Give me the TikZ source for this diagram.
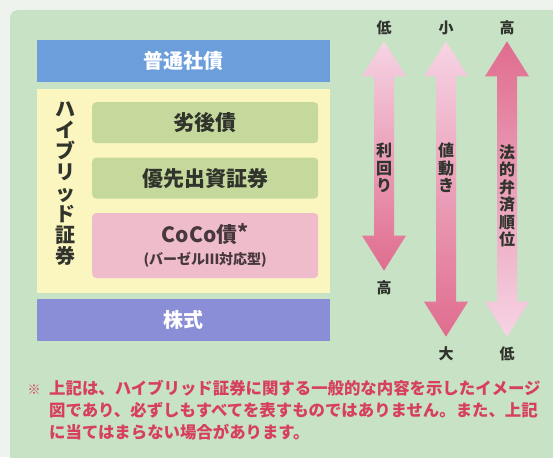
\documentclass[tikz,border=0pt]{standalone}
\usepackage{fontspec}
\usepackage{tikz}
\usepackage{xcolor}
\usetikzlibrary{positioning, calc}
\newfontfamily\jp{Noto Sans CJK JP}
\definecolor{PaleBg}{RGB}{238, 243, 237}
\definecolor{PanelGreen}{RGB}{200, 226, 198}
\definecolor{BondBlue}{RGB}{108, 158, 220}
\definecolor{HybridYellow}{RGB}{251, 246, 192}
\definecolor{SubGreen}{RGB}{198, 217, 156}
\definecolor{CocoPink}{RGB}{238, 188, 203}
\definecolor{StockPurple}{RGB}{138, 142, 214}
\definecolor{ArrowDark}{RGB}{224, 108, 142}
\definecolor{ArrowLight}{RGB}{246, 212, 228}
\definecolor{NoteRed}{RGB}{214, 64, 94}
\definecolor{InkDark}{RGB}{48, 52, 44}

% block arrow with two heads, between two label nodes
\newcommand{\dblarrow}[4]{%
  \shade[top color=#3, bottom color=#4]
    let \p1=(#1.south), \p2=(#2.north) in
    (\x1,{\y1-6pt}) -- ({\x1+22pt},{\y1-41pt}) -- ({\x1+10pt},{\y1-41pt})
    -- ({\x1+10pt},{\y2+45pt}) -- ({\x1+22pt},{\y2+45pt}) -- (\x1,{\y2+10pt})
    -- ({\x1-22pt},{\y2+45pt}) -- ({\x1-10pt},{\y2+45pt})
    -- ({\x1-10pt},{\y1-41pt}) -- ({\x1-22pt},{\y1-41pt}) -- cycle;}

\begin{document}
\begin{tikzpicture}[
    x=1pt, y=-1pt,
    layer/.style={minimum width=293pt, minimum height=42pt, inner sep=0pt,
        text=white, font=\jp\bfseries\fontsize{20}{22}\selectfont},
    inner/.style={rounded corners=4pt, minimum width=226pt, minimum height=41pt,
        inner sep=0pt, text=InkDark, font=\jp\bfseries\fontsize{21}{23}\selectfont},
    scale label/.style={inner sep=0pt, text=InkDark, font=\jp\bfseries\fontsize{15}{17}\selectfont},
    arrow text/.style={inner sep=0pt, align=center, text=InkDark,
        font=\jp\bfseries\fontsize{16}{17.5}\selectfont}
]
\useasboundingbox (0,0) rectangle (553,457);
\fill[PaleBg] (0,0) rectangle (553,457);
\fill[PanelGreen, rounded corners=8pt] (10,10) rectangle (580,480);

% Layers
\node[layer, fill=BondBlue, anchor=north west] (bond) at (37,40) {普通社債};
\node[layer, fill=HybridYellow, minimum height=204pt, below=6pt of bond] (hybrid) {};
\node[layer, fill=StockPurple, below=6pt of hybrid] (stock) {株式};

\node[inner, fill=SubGreen, anchor=north west] (sub) at (92,102) {劣後債};
\node[inner, fill=SubGreen, below=14pt of sub] (pref) {優先出資証券};
\node[inner, fill=CocoPink, minimum height=65pt, below=14pt of pref, align=center, text=black!70!CocoPink] (coco)
    {\fontsize{21}{23}\selectfont CoCo債\raisebox{2pt}{*}\\[-1pt]
     \fontsize{14}{15}\selectfont (バーゼルⅢ対応型)};
\node[inner sep=0pt, align=center, text=InkDark, font=\jp\bfseries\fontsize{20}{21}\selectfont] (hybridlabel)
    at (65,184) {ハ\\イ\\ブ\\リ\\ッ\\ド\\証\\券};

% Scales
\node[scale label] (yieldlow) at (384,28) {低};
\node[scale label] (yieldhigh) at (384,288) {高};
\node[scale label] (pricelow) at (446,28) {小};
\node[scale label] (pricehigh) at (446,354) {大};
\node[scale label] (rankhigh) at (507,28) {高};
\node[scale label] (ranklow) at (507,354) {低};

\dblarrow{yieldlow}{yieldhigh}{ArrowLight}{ArrowDark}
\dblarrow{pricelow}{pricehigh}{ArrowLight}{ArrowDark}
\dblarrow{rankhigh}{ranklow}{ArrowDark}{ArrowLight}

\node[arrow text] (yield) at (384,168) {利\\回\\り};
\node[arrow text] (price) at (446,168) {値\\動\\き};
\node[arrow text] (rank) at (507,196) {法\\的\\弁\\済\\順\\位};

% Note
\node[inner sep=0pt, text=NoteRed, font=\jp\bfseries\fontsize{13}{15}\selectfont] (mark) at (34,390) {※};
\node[inner sep=0pt, anchor=north west, align=left, text=NoteRed,
    font=\jp\bfseries\fontsize{16.4}{22}\selectfont] (note) at (49,380)
    {上記は、ハイブリッド証券に関する一般的な内容を示したイメージ\\
     図であり、必ずしもすべてを表すものではありません。また、上記\\
     に当てはまらない場合があります。};

\end{tikzpicture}
\end{document}
